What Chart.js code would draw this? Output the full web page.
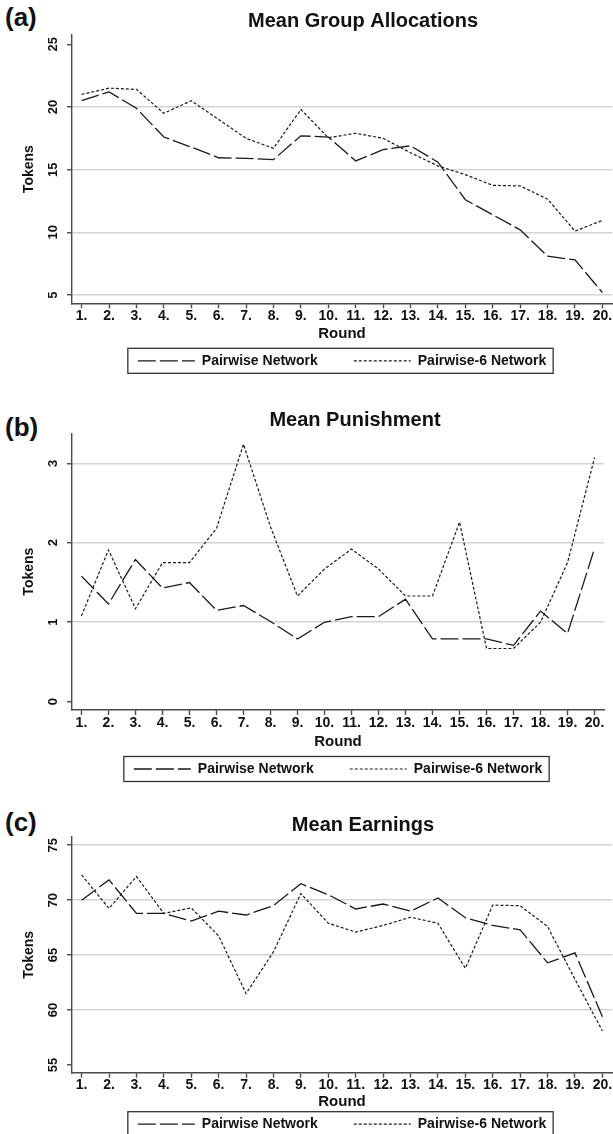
<!DOCTYPE html>
<html>
<head>
<meta charset="utf-8">
<script src="https://cdn.jsdelivr.net/npm/chart.js@4.4.1/dist/chart.umd.min.js"></script>
<style>
  html, body { margin: 0; padding: 0; background: #fff; width: 613px; height: 1134px; overflow: hidden; }
  canvas { position: absolute; left: 0; }
  .tag { position: absolute; left: 5px; font: bold 26px/26px Arial, "Liberation Sans", sans-serif; color: #111; }
</style>
</head>
<body>
<div class="tag" style="top:4px">(a)</div>
<div class="tag" style="top:414px">(b)</div>
<div class="tag" style="top:809px">(c)</div>
<canvas id="chartA" style="top:0px" width="613" height="404"></canvas>
<canvas id="chartB" style="top:400px" width="613" height="411"></canvas>
<canvas id="chartC" style="top:803px" width="613" height="368"></canvas>
<script>
// Rounds and their axis labels
const rounds = [1, 2, 3, 4, 5, 6, 7, 8, 9, 10, 11, 12, 13, 14, 15, 16, 17, 18, 19, 20];
const roundLabels = ['1.', '2.', '3.', '4.', '5.', '6.', '7.', '8.', '9.', '10.',
                     '11.', '12.', '13.', '14.', '15.', '16.', '17.', '18.', '19.', '20.'];
const seriesNames = ['Pairwise Network', 'Pairwise-6 Network'];

// (a) Mean group allocations
const allocPairwise  = [20.5, 21.2, 19.9, 17.6, 16.8, 15.95, 15.9, 15.8, 17.7, 17.6, 15.7, 16.6, 16.9, 15.6, 12.6, 11.4, 10.2, 8.1, 7.8, 5.2];
const allocPairwise6 = [21.0, 21.5, 21.4, 19.5, 20.5, 19.0, 17.5, 16.7, 19.8, 17.55, 17.9, 17.5, 16.35, 15.3, 14.6, 13.75, 13.7, 12.65, 10.1, 10.95];
const allocTicks = [5, 10, 15, 20, 25];

// (b) Mean punishment
const punishPairwise  = [1.58, 1.23, 1.79, 1.43, 1.50, 1.15, 1.21, 1.01, 0.79, 1.0, 1.07, 1.07, 1.29, 0.79, 0.79, 0.79, 0.71, 1.14, 0.86, 1.93];
const punishPairwise6 = [1.08, 1.91, 1.17, 1.75, 1.75, 2.18, 3.24, 2.2, 1.33, 1.67, 1.92, 1.67, 1.33, 1.33, 2.26, 0.67, 0.67, 1.0, 1.75, 3.07];
const punishTicks = [0, 1, 2, 3];

// (c) Mean earnings
const earnPairwise  = [70.0, 71.85, 68.8, 68.8, 68.1, 69.0, 68.65, 69.5, 71.5, 70.5, 69.2, 69.65, 69.0, 70.2, 68.4, 67.7, 67.3, 64.3, 65.2, 59.4];
const earnPairwise6 = [72.3, 69.25, 72.15, 68.8, 69.3, 66.75, 61.5, 65.3, 70.6, 67.9, 67.1, 67.7, 68.45, 67.9, 63.8, 69.55, 69.5, 67.6, 62.8, 58.1];
const earnTicks = [55, 60, 65, 70, 75];

const AXIS = '#4a4a4a';
const GRID = '#d4d4d4';
const INK = '#111';
Chart.defaults.font.family = 'Arial, "Liberation Sans", sans-serif';

// nudge title and legend to where the original puts them
const nudge = {
    id: 'nudge',
    afterLayout(chart, args, opts) {
        const t = chart.titleBlock;
        t.left += opts.titleDx;
        t.right += opts.titleDx;
        const l = chart.legend;
        l.top += opts.legendDy;
        l.bottom += opts.legendDy;
    }
};

// framed legend
const legendFrame = {
    id: 'legendFrame',
    afterDraw(chart) {
        const boxes = chart.legend.legendHitBoxes;
        if (!boxes || !boxes.length) return;
        const first = boxes[0], last = boxes[boxes.length - 1];
        const x0 = first.left - 10;
        const x1 = last.left + last.width + 7;
        const yc = first.top + first.height / 2;
        const ctx = chart.ctx;
        ctx.save();
        ctx.strokeStyle = '#333';
        ctx.lineWidth = 1.3;
        ctx.strokeRect(x0, yc - 12.5, x1 - x0, 25);
        ctx.restore();
    }
};

function makePanel(id, title, s1, s2, yTicks, p) {
    const ctx = document.getElementById(id).getContext('2d');
    new Chart(ctx, {
        type: 'line',
        data: {
            datasets: [{
                label: seriesNames[0],
                data: rounds.map((r, i) => ({ x: r, y: s1[i] })),
                borderColor: '#1a1a1a',
                borderWidth: 1.3,
                borderDash: [18, 4],
                pointRadius: 0,
                tension: 0
            }, {
                label: seriesNames[1],
                data: rounds.map((r, i) => ({ x: r, y: s2[i] })),
                borderColor: '#1a1a1a',
                borderWidth: 1.2,
                borderDash: [3, 2],
                pointRadius: 0,
                tension: 0
            }]
        },
        options: {
            responsive: false,
            animation: false,
            events: [],
            layout: { padding: { left: 0, top: 0, right: p.padRight, bottom: p.padBottom } },
            scales: {
                x: {
                    type: 'linear',
                    min: 0.65,
                    max: 20.35,
                    afterBuildTicks: s => { s.ticks = rounds.map(v => ({ value: v })); },
                    afterFit: s => { s.height = p.xHeight; s.paddingLeft = 0; s.paddingRight = 0; },
                    border: { color: AXIS, width: 1.4 },
                    grid: { drawOnChartArea: false, tickLength: 5, tickColor: AXIS, tickWidth: 1.4 },
                    ticks: {
                        autoSkip: false, maxRotation: 0, padding: p.xTickPad, color: INK,
                        font: { size: 14, weight: 'bold', lineHeight: 1 },
                        callback: (v, i) => roundLabels[i]
                    },
                    title: {
                        display: true, text: 'Round', color: INK,
                        font: { size: 15, weight: 'bold' },
                        padding: { top: 0, bottom: 0 }
                    }
                },
                y: {
                    min: p.yMin,
                    max: p.yMax,
                    afterBuildTicks: s => { s.ticks = yTicks.map(v => ({ value: v })); },
                    afterFit: s => { s.width = 72; s.paddingTop = 0; s.paddingBottom = 0; },
                    border: { color: AXIS, width: 1.4 },
                    grid: {
                        color: c => (c.tick && c.tick.value === p.noGrid) ? 'rgba(0,0,0,0)' : GRID,
                        lineWidth: 1.5, tickLength: 5, tickColor: AXIS, tickWidth: 1.4
                    },
                    ticks: {
                        minRotation: 90, maxRotation: 90, crossAlign: 'center',
                        padding: p.yTickPad, color: INK,
                        font: { size: 13, weight: 'bold' },
                        callback: v => String(v)
                    },
                    title: {
                        display: true, text: 'Tokens', color: INK,
                        font: { size: 14, weight: 'bold' },
                        padding: { top: 20.6, bottom: 0 }
                    }
                }
            },
            plugins: {
                tooltip: { enabled: false },
                title: {
                    display: true, text: title, color: INK,
                    font: { size: 20, weight: 'bold', lineHeight: 1.2 },
                    padding: { top: p.titleTop, bottom: p.titleBottom }
                },
                legend: {
                    position: 'bottom',
                    fullSize: false,
                    labels: {
                        usePointStyle: true, pointStyle: 'line', pointStyleWidth: 57,
                        padding: 36, color: INK,
                        font: { size: 14, weight: 'bold' },
                        // legend samples take the dash of their line
                        generateLabels: chart => Chart.defaults.plugins.legend.labels.generateLabels(chart).map(item => {
                            const ds = chart.data.datasets[item.datasetIndex];
                            item.lineDash = ds.borderDash;
                            item.lineWidth = ds.borderWidth;
                            item.strokeStyle = ds.borderColor;
                            return item;
                        })
                    }
                },
                nudge: { titleDx: p.titleDx, legendDy: p.legendDy }
            }
        },
        plugins: [nudge, legendFrame]
    });
}

makePanel('chartA', 'Mean Group Allocations', allocPairwise, allocPairwise6, allocTicks, {
    yMin: 4.34, yMax: 25.74, noGrid: 25, yTickPad: 6,
    titleTop: 9.7, titleBottom: 1.3, titleDx: 57,
    xHeight: 40, xTickPad: 1, legendDy: -25.5,
    padRight: 1, padBottom: 0.7
});

makePanel('chartB', 'Mean Punishment', punishPairwise, punishPairwise6, punishTicks, {
    yMin: -0.104, yMax: 3.377, noGrid: 0, yTickPad: 10,
    titleTop: 8.5, titleBottom: 0.8, titleDx: 53,
    xHeight: 40.7, xTickPad: 1.5, legendDy: -24.7,
    padRight: 9, padBottom: 0.3
});

makePanel('chartC', 'Mean Earnings', earnPairwise, earnPairwise6, earnTicks, {
    yMin: 54.3, yMax: 75.75, noGrid: 55, yTickPad: 6,
    titleTop: 10, titleBottom: 0, titleDx: 57,
    xHeight: 38, xTickPad: 0.3, legendDy: -29.5,
    padRight: 1, padBottom: 0.3
});
</script>
</body>
</html>
